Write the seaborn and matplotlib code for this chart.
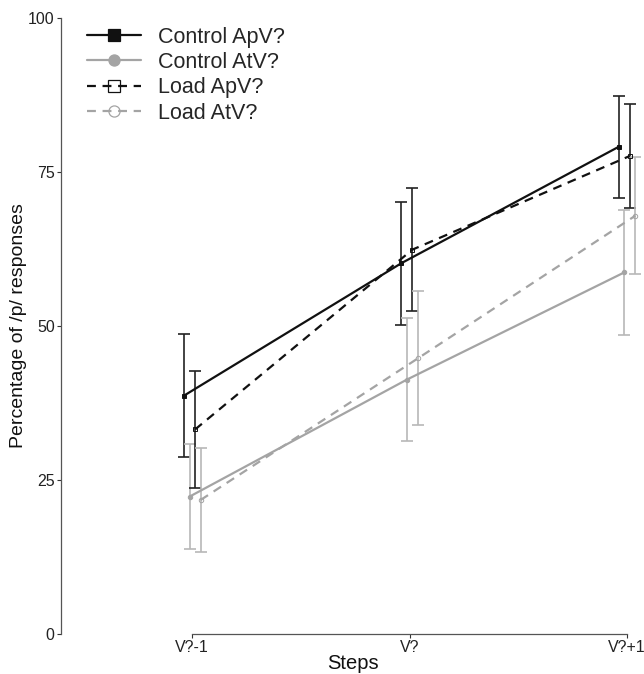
import numpy as np
import pandas as pd
import matplotlib
matplotlib.use("Agg")
import matplotlib.pyplot as plt
import seaborn as sns
from matplotlib.lines import Line2D

steps = ["V?-1", "V?", "V?+1"]
series = ["Control ApV?", "Control AtV?", "Load ApV?", "Load AtV?"]
control_apv = [38.7, 60.2, 79.1]
control_apv_err = [10.0, 10.0, 8.3]
control_atv = [22.3, 41.3, 58.7]
control_atv_err = [8.5, 10.0, 10.1]
load_apv = [33.2, 62.4, 77.6]
load_apv_err = [9.5, 10.0, 8.4]
load_atv = [21.75, 44.75, 67.9]
load_atv_err = [8.4, 10.9, 9.5]
y_ticks = [0, 25, 50, 75, 100]

means = [control_apv, control_atv, load_apv, load_atv]
errs = [control_apv_err, control_atv_err, load_apv_err, load_atv_err]
dodge = [-0.038, -0.0127, 0.0127, 0.038]

rows = []
for s, m, e, d in zip(series, means, errs, dodge):
    for i, (mv, ev) in enumerate(zip(m, e)):
        rows.append({"series": s, "x": i + d, "y": mv, "err": ev})
df = pd.DataFrame(rows)

sns.set_theme(style="white")
plt.rcParams["font.family"] = ["Liberation Sans", "DejaVu Sans"]

BLACK = "#111111"
GRAY = "#a4a4a4"
styles = {
    "Control ApV?": dict(color=BLACK, ls="-", marker="s", mfc=BLACK, ecol="#222222"),
    "Control AtV?": dict(color=GRAY, ls="-", marker="o", mfc=GRAY, ecol="#b8b8b8"),
    "Load ApV?": dict(color=BLACK, ls=(0, (4, 3)), marker="s", mfc="none", ecol="#222222"),
    "Load AtV?": dict(color=GRAY, ls=(0, (4, 3)), marker="o", mfc="none", ecol="#b8b8b8"),
}

fig = plt.figure(figsize=(6.44, 6.74), dpi=100)
ax = fig.add_axes([61 / 644, 40 / 674, 583 / 644, 616 / 674])

for s in series:
    st = styles[s]
    sub = df[df["series"] == s]
    ax.errorbar(sub["x"], sub["y"], yerr=sub["err"], fmt="none", ecolor=st["ecol"],
                elinewidth=1.2, capsize=4.5, capthick=1.2, zorder=2)
    sns.lineplot(data=sub, x="x", y="y", ax=ax, color=st["color"], linestyle=st["ls"],
                 linewidth=1.6, marker=st["marker"], markersize=3.2,
                 markerfacecolor=st["mfc"], markeredgecolor=st["color"],
                 markeredgewidth=0.7, estimator=None, sort=False, zorder=3)

ax.set_xlim(-0.604, 2.078)
ax.set_ylim(0, 100)
ax.set_xticks(range(len(steps)))
ax.set_xticklabels(steps)
ax.set_yticks(y_ticks)
ax.set_yticklabels([str(v) for v in y_ticks])
ax.set_xlabel("Steps", fontsize=14.5, labelpad=-1, color="#111111")
ax.set_ylabel("Percentage of /p/ responses", fontsize=14, labelpad=1, color="#111111")
ax.tick_params(axis="both", labelsize=11.5, colors="#333333", length=3, width=0.8,
               direction="out", bottom=True, left=True, pad=1.5)
for lab in ax.get_xticklabels() + ax.get_yticklabels():
    lab.set_color("#222222")

for side in ["top", "right"]:
    ax.spines[side].set_visible(False)
for side in ["left", "bottom"]:
    ax.spines[side].set_color("#555555")
    ax.spines[side].set_linewidth(0.9)
ax.spines["bottom"].set_bounds(0, 2)
ax.spines["left"].set_bounds(0, 100)

handles = []
for s in series:
    st = styles[s]
    handles.append(Line2D([0], [0], color=st["color"], linestyle=st["ls"], linewidth=1.6,
                          marker=st["marker"], markersize=8,
                          markerfacecolor=st["mfc"], markeredgecolor=st["color"],
                          markeredgewidth=0.9))
leg = ax.legend(handles, series, loc="upper left", bbox_to_anchor=(0.03, 1.0),
                frameon=False, fontsize=15.5, labelspacing=0.2, handlelength=2.5,
                handletextpad=0.8, borderaxespad=0.0)

fig.savefig("out.png", dpi=100)
